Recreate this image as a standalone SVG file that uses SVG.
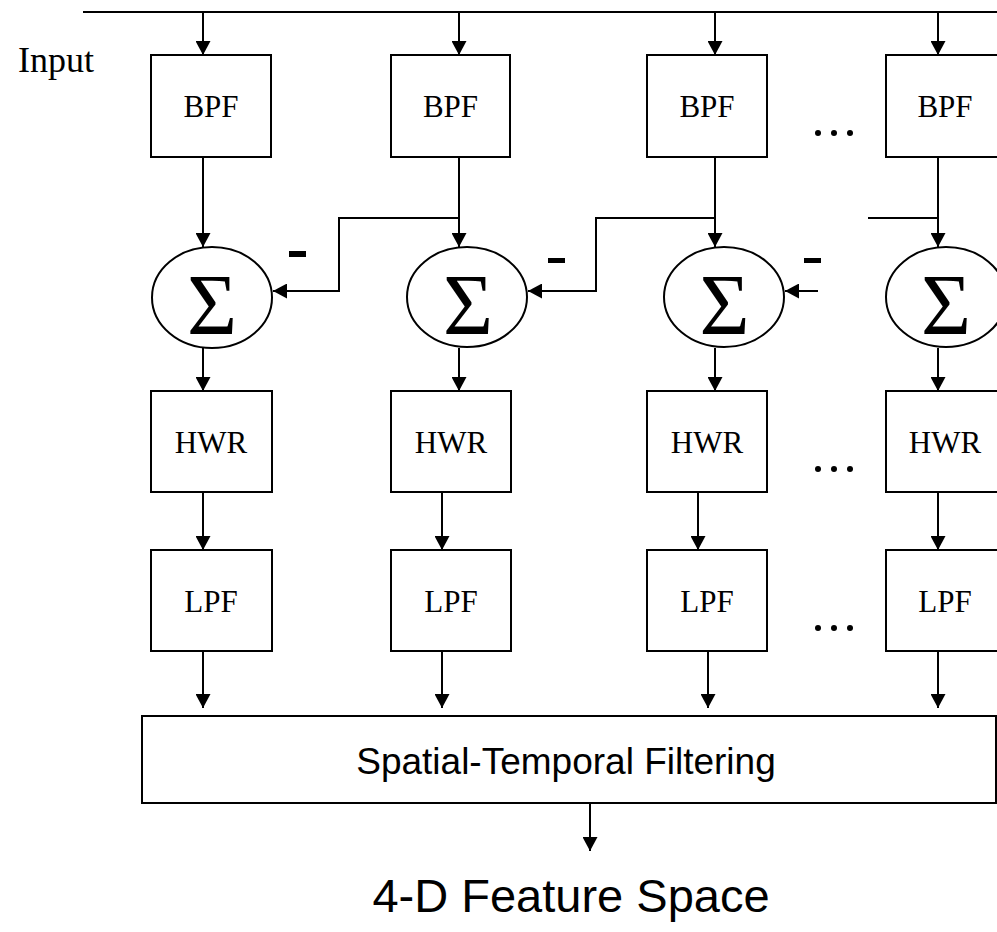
<svg xmlns="http://www.w3.org/2000/svg" width="997" height="932" viewBox="0 0 997 932">
  <style>
    .box { fill: #fff; stroke: #000; stroke-width: 2; }
    .sum { fill: #fff; stroke: #000; stroke-width: 2; }
    .wire { fill: none; stroke: #000; stroke-width: 2; }
    .arrow { fill: none; stroke: #000; stroke-width: 2; marker-end: url(#head); }
    .lbl { font-family: "Liberation Serif", "Times New Roman", serif; font-size: 31px; text-anchor: middle; fill: #000; }
    .sigma { font-family: "Liberation Serif", "Times New Roman", serif; font-size: 86px; text-anchor: middle; fill: #000; }
    .sans { font-family: "Liberation Sans", Arial, sans-serif; text-anchor: middle; fill: #000; }
    .minus { fill: #000; }
    .dot { fill: #000; }
  </style>
  <defs>
    <marker id="head" viewBox="0 0 14 15" refX="14" refY="7.5" markerWidth="14" markerHeight="15" markerUnits="userSpaceOnUse" orient="auto">
      <path d="M0,0 L14,7.5 L0,15 Z" fill="#000"/>
    </marker>
  </defs>

  <rect width="997" height="932" fill="#fff"/>

  <text x="56" y="72" font-family="Liberation Serif, Times New Roman, serif" font-size="36" text-anchor="middle">Input</text>

  <!-- connectors -->
  <g id="connectors">
    <line class="wire" x1="83" y1="12" x2="997" y2="12"/>
    <!-- input taps -->
    <line class="arrow" x1="203" y1="12" x2="203" y2="55"/>
    <line class="arrow" x1="459" y1="12" x2="459" y2="55"/>
    <line class="arrow" x1="715" y1="12" x2="715" y2="55"/>
    <line class="arrow" x1="938" y1="12" x2="938" y2="55"/>
    <!-- BPF to summers -->
    <line class="arrow" x1="203" y1="157" x2="203" y2="247"/>
    <line class="arrow" x1="459" y1="157" x2="459" y2="247"/>
    <line class="arrow" x1="715" y1="157" x2="715" y2="247"/>
    <line class="arrow" x1="938" y1="157" x2="938" y2="247"/>
    <!-- lateral inhibition -->
    <polyline class="arrow" points="459,218 339,218 339,291 273,291"/>
    <polyline class="arrow" points="715,218 596,218 596,291 528,291"/>
    <line class="wire" x1="868" y1="218" x2="938" y2="218"/>
    <line class="arrow" x1="818" y1="291" x2="785" y2="291"/>
    <!-- summers to HWR -->
    <line class="arrow" x1="203" y1="348" x2="203" y2="391"/>
    <line class="arrow" x1="459" y1="348" x2="459" y2="391"/>
    <line class="arrow" x1="715" y1="348" x2="715" y2="391"/>
    <line class="arrow" x1="938" y1="348" x2="938" y2="391"/>
    <!-- HWR to LPF -->
    <line class="arrow" x1="203" y1="492" x2="203" y2="550"/>
    <line class="arrow" x1="442" y1="492" x2="442" y2="550"/>
    <line class="arrow" x1="698" y1="492" x2="698" y2="550"/>
    <line class="arrow" x1="938" y1="492" x2="938" y2="550"/>
    <!-- LPF to spatial-temporal stage -->
    <line class="arrow" x1="203" y1="651" x2="203" y2="708"/>
    <line class="arrow" x1="442" y1="651" x2="442" y2="708"/>
    <line class="arrow" x1="708" y1="651" x2="708" y2="708"/>
    <line class="arrow" x1="938" y1="651" x2="938" y2="708"/>
    <!-- output -->
    <line class="arrow" x1="590" y1="803" x2="590" y2="851"/>
  </g>

  <!-- minus signs on inhibitory inputs -->
  <rect class="minus" x="289" y="251" width="17" height="6"/>
  <rect class="minus" x="548" y="258" width="17" height="5"/>
  <rect class="minus" x="804" y="258" width="17" height="5"/>

  <!-- column 1 -->
  <g id="bpf1"><rect class="box" x="151" y="55" width="120" height="102"/><text class="lbl" x="211" y="117">BPF</text></g>
  <g id="sum1"><ellipse class="sum" cx="212" cy="297.5" rx="60" ry="50.5"/><text class="sigma" x="212" y="334">Σ</text></g>
  <g id="hwr1"><rect class="box" x="151" y="391" width="121" height="101"/><text class="lbl" x="211" y="453">HWR</text></g>
  <g id="lpf1"><rect class="box" x="151" y="550" width="121" height="101"/><text class="lbl" x="211" y="612">LPF</text></g>

  <!-- column 2 -->
  <g id="bpf2"><rect class="box" x="391" y="55" width="119" height="102"/><text class="lbl" x="450.5" y="117">BPF</text></g>
  <g id="sum2"><ellipse class="sum" cx="467" cy="297" rx="60" ry="50"/><text class="sigma" x="468" y="334">Σ</text></g>
  <g id="hwr2"><rect class="box" x="391" y="391" width="120" height="101"/><text class="lbl" x="451" y="453">HWR</text></g>
  <g id="lpf2"><rect class="box" x="391" y="550" width="120" height="101"/><text class="lbl" x="451" y="612">LPF</text></g>

  <!-- column 3 -->
  <g id="bpf3"><rect class="box" x="647" y="55" width="120" height="102"/><text class="lbl" x="707" y="117">BPF</text></g>
  <g id="sum3"><ellipse class="sum" cx="724" cy="297" rx="60" ry="50"/><text class="sigma" x="724.5" y="334">Σ</text></g>
  <g id="hwr3"><rect class="box" x="647" y="391" width="120" height="101"/><text class="lbl" x="707" y="453">HWR</text></g>
  <g id="lpf3"><rect class="box" x="647" y="550" width="120" height="101"/><text class="lbl" x="707" y="612">LPF</text></g>

  <!-- column N -->
  <g id="bpf4"><rect class="box" x="886" y="55" width="120" height="102"/><text class="lbl" x="945" y="117">BPF</text></g>
  <g id="sum4"><ellipse class="sum" cx="946" cy="297" rx="60" ry="50"/><text class="sigma" x="946" y="334">Σ</text></g>
  <g id="hwr4"><rect class="box" x="886" y="391" width="120" height="101"/><text class="lbl" x="945" y="453">HWR</text></g>
  <g id="lpf4"><rect class="box" x="886" y="550" width="120" height="101"/><text class="lbl" x="945" y="612">LPF</text></g>

  <!-- ellipsis between columns -->
  <g id="dots">
    <circle class="dot" cx="818" cy="133" r="3"/><circle class="dot" cx="834" cy="133" r="3"/><circle class="dot" cx="850" cy="133" r="3"/>
    <circle class="dot" cx="818" cy="469" r="3"/><circle class="dot" cx="834" cy="469" r="3"/><circle class="dot" cx="850" cy="469" r="3"/>
    <circle class="dot" cx="818" cy="628" r="3"/><circle class="dot" cx="834" cy="628" r="3"/><circle class="dot" cx="850" cy="628" r="3"/>
  </g>

  <g id="spatial-temporal">
    <rect class="box" x="142" y="716" width="854" height="87"/>
    <text class="sans" x="566" y="774" font-size="37">Spatial-Temporal Filtering</text>
  </g>

  <g id="feature-space">
    <text class="sans" x="571" y="912" font-size="47">4-D Feature Space</text>
  </g>
</svg>
